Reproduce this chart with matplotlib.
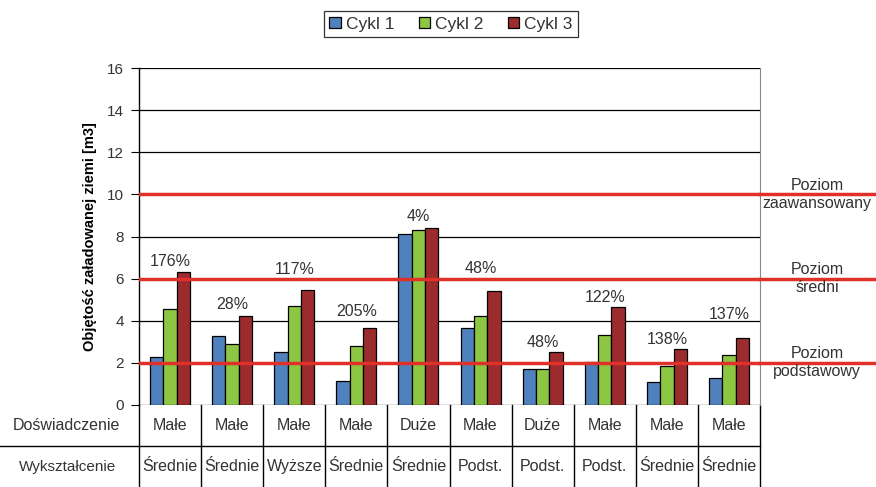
import matplotlib.pyplot as plt
import matplotlib.transforms as mtransforms
from matplotlib.lines import Line2D
import numpy as np

# data
cykl1 = [2.27, 3.28, 2.50, 1.14, 8.10, 3.65, 1.69, 2.05, 1.07, 1.27]
cykl2 = [4.55, 2.90, 4.68, 2.80, 8.30, 4.23, 1.69, 3.33, 1.86, 2.37]
cykl3 = [6.32, 4.23, 5.46, 3.65, 8.42, 5.40, 2.54, 4.66, 2.65, 3.18]
percent = ['176%', '28%', '117%', '205%', '4%', '48%', '48%', '122%', '138%', '137%']
doswiadczenie = ['Małe', 'Małe', 'Małe', 'Małe', 'Duże', 'Małe', 'Duże', 'Małe', 'Małe', 'Małe']
wyksztalcenie = ['Średnie', 'Średnie', 'Wyższe', 'Średnie', 'Średnie', 'Podst.', 'Podst.', 'Podst.', 'Średnie', 'Średnie']
levels = [2, 6, 10]
level_names = ['Poziom\npodstawowy', 'Poziom\nśredni', 'Poziom\nzaawansowany']
series_names = ['Cykl 1', 'Cykl 2', 'Cykl 3']

# height where each percentage label sits
label_y = [6.79, 4.75, 6.44, 4.43, 8.94, 6.49, 2.96, 5.09, 3.09, 4.32]

plt.rcParams['font.family'] = ['Liberation Sans', 'DejaVu Sans']

colors = ['#4F81BD', '#8DC642', '#9B2B2D']
txt_col = '#333333'

fig = plt.figure(figsize=(8.76, 4.87), dpi=100)
ax = fig.add_axes([139/876, 82/487, 621/876, 337/487])

x = np.arange(len(cykl1))
w = 0.215
for i, vals in enumerate([cykl1, cykl2, cykl3]):
    ax.bar(x + (i - 1) * w, vals, w, color=colors[i], edgecolor='black',
           linewidth=0.9, label=series_names[i], zorder=3)

ax.set_xlim(-0.5, 9.5)
ax.set_ylim(0, 16)
ax.set_yticks(np.arange(0, 17, 2))
ax.tick_params(axis='y', labelsize=11, colors='black', labelcolor=txt_col,
               length=6, width=0.8, pad=5)
ax.set_xticks([])
ax.yaxis.grid(True, color='black', linewidth=0.9, zorder=0)
for s in ['top', 'bottom']:
    ax.spines[s].set_visible(False)
ax.spines['right'].set_color('#888888')
ax.spines['left'].set_linewidth(1.0)
ax.set_ylabel('Objętość załadowanej ziemi [m3]', fontsize=10.5, fontweight='bold')
ax.yaxis.set_label_coords(-0.068, 0.5)

# percent labels
for i, p in enumerate(percent):
    ax.text(x[i], label_y[i], p, ha='center', va='center', fontsize=11.5,
            color=txt_col, zorder=5)

# red level lines, running to the right edge of the figure
for lv, name in zip(levels, level_names):
    ax.axhline(lv, xmin=0, xmax=1, color='#E0302A', linewidth=2.5, zorder=4)
    yfig = ax.transData.transform((0, lv))[1] / fig.bbox.height
    fig.add_artist(Line2D([760/876, 1], [yfig, yfig], color='#E0302A',
                          linewidth=2.5, transform=fig.transFigure))
    fig.text(817/876, yfig, name, ha='center', va='center', fontsize=11.5,
             color=txt_col, linespacing=1.25)

# table under the axes
trans = mtransforms.blended_transform_factory(ax.transData, ax.transAxes)
row_h = 41 / 337
for b in np.arange(-0.5, 10, 1):
    ax.add_line(Line2D([b, b], [0, -2 * row_h], transform=trans, color='black',
                       linewidth=1.0, clip_on=False))
fig.add_artist(Line2D([0, 760/876], [41/487, 41/487], color='black',
                      linewidth=1.0, transform=fig.transFigure))
for i in range(len(x)):
    ax.text(x[i], -0.5 * row_h, doswiadczenie[i], transform=trans, ha='center',
            va='center', fontsize=11.5, color=txt_col)
    ax.text(x[i], -1.5 * row_h, wyksztalcenie[i], transform=trans, ha='center',
            va='center', fontsize=11.5, color=txt_col)
fig.text(66/876, (487 - 426)/487, 'Doświadczenie', ha='center', va='center',
         fontsize=11.5, color=txt_col)
fig.text(68/876, (487 - 467)/487, 'Wykształcenie', ha='center', va='center',
         fontsize=11, color=txt_col)

leg = fig.legend(loc='center', bbox_to_anchor=(451/876, 1 - 24/487), ncol=3,
                 fontsize=12.5, frameon=True, fancybox=False, handlelength=0.65,
                 handleheight=0.65, handletextpad=0.3, columnspacing=1.4,
                 borderpad=0.3, borderaxespad=0, edgecolor='black')
leg.get_frame().set_linewidth(0.9)
for t in leg.get_texts():
    t.set_color(txt_col)

fig.savefig('out.png', dpi=100)
